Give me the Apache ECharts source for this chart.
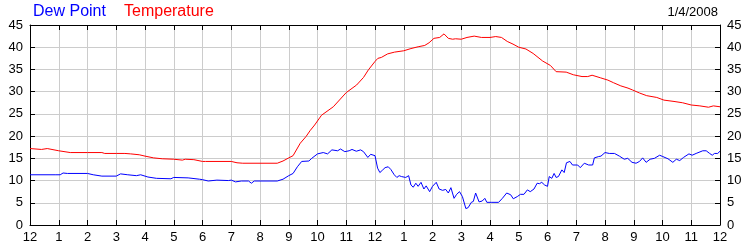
<!DOCTYPE html>
<html>
<head>
<meta charset="utf-8">
<script src="https://cdn.jsdelivr.net/npm/echarts@6/dist/echarts.min.js"></script>
<style>html,body{margin:0;padding:0;background:#fff}#c{width:750px;height:250px}</style>
</head>
<body>
<div id="c"></div>
<script>
var hourLabels = ['12','1','2','3','4','5','6','7','8','9','10','11','12','1','2','3','4','5','6','7','8','9','10','11','12'];
var yTicks = [0,5,10,15,20,25,30,35,40,45];
var dateLabel = '1/4/2008';

var tempHours = [0,0.4,0.6,1,1.4,2,2.5,2.6,3,3.3,3.5,3.8,4,4.3,4.6,5,5.3,5.4,5.7,6,6.1,7,7.2,7.4,8,8.6,8.8,9.0,9.15,9.4,9.6,9.75,9.9,10.14,10.55,11.0,11.36,11.6,11.77,12.0,12.1,12.22,12.44,12.68,13,13.25,13.5,13.73,13.88,14.05,14.25,14.4,14.55,14.7,14.8,15.0,15.2,15.45,15.7,16,16.2,16.4,16.6,16.8,17,17.25,17.5,17.83,18.1,18.3,18.65,18.9,19.2,19.4,19.55,19.85,20.1,20.3,20.55,20.8,20.95,21.2,21.45,21.8,22.05,22.4,22.7,23,23.3,23.6,23.77,24];
var tempValues = [17.2,17.0,17.2,16.7,16.3,16.3,16.3,16.1,16.1,16.1,16.0,15.8,15.5,15.1,14.9,14.8,14.6,14.8,14.7,14.3,14.3,14.3,14.0,13.9,13.9,13.9,14.4,15.1,15.6,18.4,19.9,21.3,22.5,24.7,26.6,29.8,31.5,33.2,34.9,36.8,37.5,37.7,38.5,38.9,39.2,39.7,40.1,40.4,41.0,42.0,42.2,43.0,42.0,41.8,41.9,41.8,42.2,42.5,42.2,42.2,42.4,42.2,41.3,40.7,40.0,39.6,38.6,36.9,35.9,34.5,34.4,33.8,33.4,33.4,33.7,33.1,32.6,32.0,31.3,30.8,30.4,29.7,29.1,28.7,28.1,27.8,27.5,27.0,26.8,26.5,26.8,26.6];

var dewHours = [0,0.9,0.95,1.05,1.15,1.3,2,2.05,2.2,2.5,3,3.15,3.4,3.7,3.85,4.1,4.4,4.9,5.0,5.5,5.9,6.0,6.2,6.5,6.9,7.0,7.15,7.35,7.6,7.7,7.8,8.6,8.8,9.0,9.15,9.3,9.45,9.7,9.8,10.0,10.2,10.35,10.5,10.7,10.8,10.95,11.1,11.2,11.35,11.5,11.6,11.66,11.75,11.85,12.0,12.09,12.17,12.27,12.35,12.46,12.55,12.67,12.76,12.84,12.92,13.07,13.17,13.25,13.33,13.42,13.5,13.6,13.7,13.78,13.9,14.0,14.13,14.23,14.35,14.46,14.55,14.64,14.75,14.84,14.94,15.04,15.16,15.24,15.35,15.42,15.5,15.62,15.73,15.82,15.89,16.04,16.3,16.43,16.58,16.72,16.81,16.95,17.06,17.18,17.3,17.4,17.53,17.64,17.72,17.8,17.9,18.0,18.06,18.15,18.23,18.3,18.38,18.5,18.58,18.66,18.78,18.87,19.05,19.14,19.28,19.43,19.57,19.63,19.78,19.86,20.0,20.15,20.33,20.5,20.67,20.79,20.94,21.08,21.2,21.31,21.43,21.57,21.72,21.9,22.01,22.19,22.36,22.48,22.6,22.73,22.92,23.03,23.17,23.4,23.52,23.64,23.73,23.81,23.92,24.0];
var dewValues = [11.3,11.3,11.5,11.3,11.7,11.6,11.6,11.7,11.3,11.0,11.0,11.5,11.3,11.1,11.3,10.8,10.5,10.4,10.7,10.6,10.3,10.2,9.9,10.1,10.0,10.1,9.7,9.9,9.9,9.4,9.9,9.9,10.3,11.1,11.6,13.1,14.3,14.4,15.0,16.0,16.3,16.0,16.9,16.7,17.1,16.5,16.7,17.0,16.6,16.9,16.5,16.7,15.2,15.9,15.6,12.8,11.8,12.4,12.9,13.1,12.5,11.3,10.7,11.1,10.9,10.7,11.1,9.0,8.5,9.4,8.7,9.6,8.1,8.8,7.5,8.7,9.6,8.1,7.8,8.0,7.2,8.4,6.0,6.9,7.5,6.4,3.7,3.9,5.1,5.3,7.2,5.2,5.4,6.0,5.1,5.1,5.1,6.0,7.2,6.8,5.9,6.4,6.9,6.9,7.9,7.5,8.1,9.4,9.3,9.6,9.0,8.7,10.9,10.5,11.6,10.7,10.9,12.4,11.8,14.0,14.3,13.5,13.5,12.9,13.9,13.5,13.5,15.1,15.4,15.5,16.3,16.1,16.1,15.5,14.8,15.0,14.1,13.9,14.3,15.1,14.1,14.8,15.0,15.7,15.4,14.9,14.1,14.8,14.5,15.2,16.0,15.7,16.1,16.7,16.7,16.1,15.7,16.1,16.1,16.6];

function zip(a, b) { return a.map(function (h, i) { return [h, b[i]]; }); }

var font = 'Liberation Sans, Arial, sans-serif';
var labelStyle = { color: '#000', fontSize: 13, fontFamily: font };
var tickIn = { show: true, inside: true, length: 5, lineStyle: { color: '#000' } };
var lineAx = { show: true, onZero: false, lineStyle: { color: '#000', width: 1 } };

var chart = echarts.init(document.getElementById('c'), null, { renderer: 'canvas' });
chart.setOption({
  animation: false,
  backgroundColor: '#fff',
  title: [
    { text: 'Dew Point', left: 33, top: 4, padding: 0, textStyle: { color: '#0000ff', fontSize: 16, fontWeight: 'normal', fontFamily: font } },
    { text: 'Temperature', left: 124, top: 4, padding: 0, textStyle: { color: '#ff0000', fontSize: 16, fontWeight: 'normal', fontFamily: font } },
    { text: dateLabel, right: 32, top: 6, padding: 0, textStyle: { color: '#000', fontSize: 13, fontWeight: 'normal', fontFamily: font } }
  ],
  grid: { left: 30, right: 30, top: 25, bottom: 25, containLabel: false },
  xAxis: [
    { type: 'value', min: 0, max: 24, interval: 1, position: 'bottom',
      axisLine: lineAx, axisTick: tickIn,
      axisLabel: Object.assign({ margin: 6, formatter: function (v) { return hourLabels[Math.round(v)]; } }, labelStyle),
      splitLine: { show: true, lineStyle: { color: '#cccccc', width: 1 } } },
    { type: 'value', min: 0, max: 24, interval: 1, position: 'top',
      axisLine: lineAx, axisTick: tickIn, axisLabel: { show: false }, splitLine: { show: false } }
  ],
  yAxis: [
    { type: 'value', min: yTicks[0], max: yTicks[yTicks.length - 1], interval: 5, position: 'left',
      axisLine: lineAx, axisTick: tickIn,
      axisLabel: Object.assign({ margin: 7 }, labelStyle),
      splitLine: { show: true, lineStyle: { color: '#cccccc', width: 1 } } },
    { type: 'value', min: yTicks[0], max: yTicks[yTicks.length - 1], interval: 5, position: 'right',
      axisLine: lineAx, axisTick: tickIn,
      axisLabel: Object.assign({ margin: 7 }, labelStyle),
      splitLine: { show: false } }
  ],
  series: [
    { name: 'Dew Point', type: 'line', data: zip(dewHours, dewValues), showSymbol: false, symbol: 'none',
      lineStyle: { color: '#0000ff', width: 1 }, itemStyle: { color: '#0000ff' }, z: 3 },
    { name: 'Temperature', type: 'line', data: zip(tempHours, tempValues), showSymbol: false, symbol: 'none',
      lineStyle: { color: '#ff0000', width: 1 }, itemStyle: { color: '#ff0000' }, z: 3 }
  ]
});
</script>
</body>
</html>
